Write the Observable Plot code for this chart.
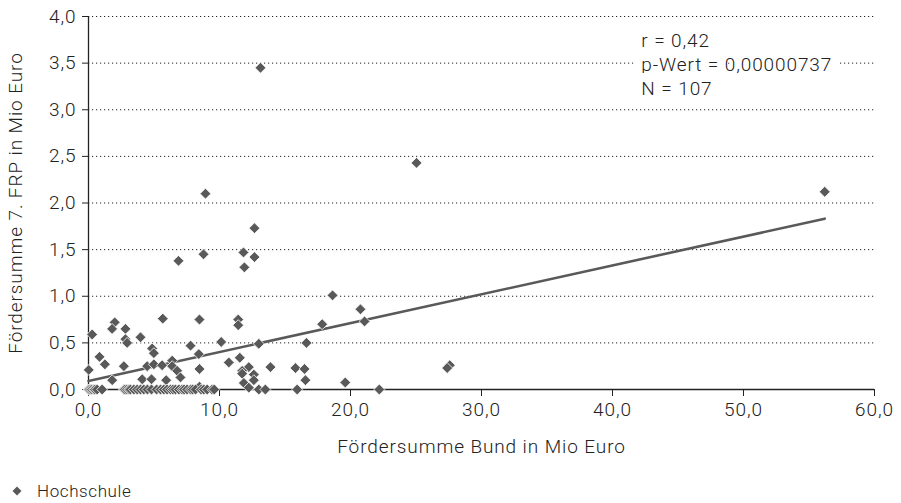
<!DOCTYPE html>
<html>
<head>
<meta charset="utf-8">
<script src="https://cdn.jsdelivr.net/npm/d3@7"></script>
<script src="https://cdn.jsdelivr.net/npm/@observablehq/plot@0.6"></script>
<style>
  html, body { margin: 0; padding: 0; background: #fff; }
  #chart { width: 901px; }
  .legend { height: 43px; display: flex; align-items: center; padding-left: 11px; box-sizing: border-box; padding-top: 18px;
            font-family: Roboto, "Liberation Sans", sans-serif; font-weight: 300; font-size: 17px; color: #222; letter-spacing: 0.6px; }
  .legend svg { margin-right: 14px; }
</style>
</head>
<body>
<div id="chart"></div>
<script>
// Fördersumme Bund in Mio Euro (x) and Fördersumme 7. FRP in Mio Euro (y), one entry per Hochschule
const foerderBund = [
  13.13, 25.04, 56.2, 8.93, 12.67, 11.83, 8.78, 12.67, 6.87, 11.9,
  18.63, 20.76, 21.07, 17.84, 11.43, 11.43, 8.47, 5.67, 0.28, 2.0,
  1.8, 2.82, 3.97, 2.82, 2.95, 4.86, 4.99, 7.79, 8.42, 0.84,
  1.25, 0.02, 2.7, 1.81, 4.48, 4.99, 5.62, 6.39, 6.39, 6.77,
  7.02, 8.47, 4.1, 4.81, 5.93, 10.13, 13.0, 16.64, 10.71, 11.55,
  12.24, 11.73, 11.73, 12.62, 12.62, 13.89, 15.8, 16.49, 16.56, 11.86,
  12.24, 19.6, 27.58, 27.38, 8.47,
  0.0, 0.05, 0.15, 0.25, 0.4, 0.5, 0.66, 1.04, 2.7, 2.8,
  2.95, 3.1, 3.2, 3.46, 3.72, 3.97, 4.22, 4.5, 4.81, 5.2,
  5.5, 5.75, 6.0, 6.26, 6.45, 6.64, 6.9, 7.15, 7.3, 7.53,
  7.79, 7.95, 8.17, 8.6, 8.8, 9.06, 9.44, 9.6, 13.0, 13.5,
  15.93, 22.2
];
const foerderFRP = [
  3.45, 2.43, 2.12, 2.10, 1.73, 1.47, 1.45, 1.42, 1.38, 1.31,
  1.01, 0.86, 0.73, 0.70, 0.75, 0.69, 0.75, 0.76, 0.59, 0.72,
  0.65, 0.65, 0.56, 0.54, 0.50, 0.44, 0.39, 0.47, 0.38, 0.35,
  0.27, 0.21, 0.25, 0.10, 0.25, 0.27, 0.26, 0.31, 0.25, 0.20,
  0.13, 0.22, 0.11, 0.11, 0.10, 0.51, 0.49, 0.50, 0.29, 0.34,
  0.24, 0.20, 0.17, 0.16, 0.10, 0.24, 0.23, 0.22, 0.10, 0.07,
  0.02, 0.075, 0.26, 0.23, 0.03,
  0.0, 0.0, 0.0, 0.0, 0.0, 0.0, 0.0, 0.0, 0.0, 0.0,
  0.0, 0.0, 0.0, 0.0, 0.0, 0.0, 0.0, 0.0, 0.0, 0.0,
  0.0, 0.0, 0.0, 0.0, 0.0, 0.0, 0.0, 0.0, 0.0, 0.0,
  0.0, 0.0, 0.0, 0.0, 0.0, 0.0, 0.0, 0.0, 0.0, 0.0,
  0.0, 0.0
];
const xTicks = [0, 10, 20, 30, 40, 50, 60];
const yTicks = [0, 0.5, 1.0, 1.5, 2.0, 2.5, 3.0, 3.5, 4.0];
const statsLines = ["r = 0,42", "p-Wert = 0,00000737", "N = 107"];
const seriesName = "Hochschule";
const xLabel = "Fördersumme Bund in Mio Euro";
const yLabel = "Fördersumme 7. FRP in Mio Euro";

const data = foerderBund.map((x, i) => ({x, y: foerderFRP[i]}));
const fmt = d => d.toFixed(1).replace(".", ",");
const grey = "#595959";

const chart = Plot.plot({
  width: 901,
  height: 460,
  marginTop: 16,
  marginBottom: 71,
  marginLeft: 88,
  marginRight: 27,
  style: {fontFamily: "Roboto, 'Liberation Sans', sans-serif", fontSize: "19px", fontWeight: 300, color: "#222", letterSpacing: "0.9px", overflow: "visible"},
  x: {domain: [0, 60]},
  y: {domain: [0, 4]},
  marks: [
    Plot.gridY(yTicks.filter(d => d > 0), {stroke: "#222", strokeOpacity: 1, strokeWidth: 1, strokeDasharray: "1.2 2.8"}),
    Plot.text([statsLines.join("\n")], {x: 42.2, y: 3.5, textAnchor: "start", lineAnchor: "middle", lineHeight: 1.27,
      fill: "#222", stroke: "white", strokeWidth: 18, fontSize: 19}),
    Plot.axisX({ticks: xTicks, tickFormat: fmt, tickSize: 7, tickPadding: 6, stroke: "#222",
      label: xLabel, labelAnchor: "center", labelArrow: "none", labelOffset: 63}),
    Plot.axisY({ticks: yTicks, tickFormat: fmt, tickSize: 6, tickPadding: 6, stroke: "#222",
      label: yLabel, labelAnchor: "center", labelArrow: "none", labelOffset: 80}),
    Plot.ruleX([0], {stroke: "#222", strokeWidth: 1.3}),
    Plot.ruleY([0], {stroke: "#222", strokeWidth: 1.3}),
    Plot.linearRegressionY(data, {x: "x", y: "y", stroke: grey, strokeWidth: 2.6, ci: 0}),
    Plot.dot(data, {x: "x", y: "y", symbol: "diamond2", r: 4.9, fill: grey, stroke: "white", strokeWidth: 0.8})
  ]
});
document.getElementById("chart").appendChild(chart);

const legend = document.createElement("div");
legend.className = "legend";
legend.innerHTML = `<svg width="12" height="12" viewBox="-6 -6 12 12"><path d="M0,-4.5L4.5,0L0,4.5L-4.5,0Z" fill="${grey}"/></svg><span></span>`;
legend.querySelector("span").textContent = seriesName;
document.getElementById("chart").appendChild(legend);
</script>
</body>
</html>
